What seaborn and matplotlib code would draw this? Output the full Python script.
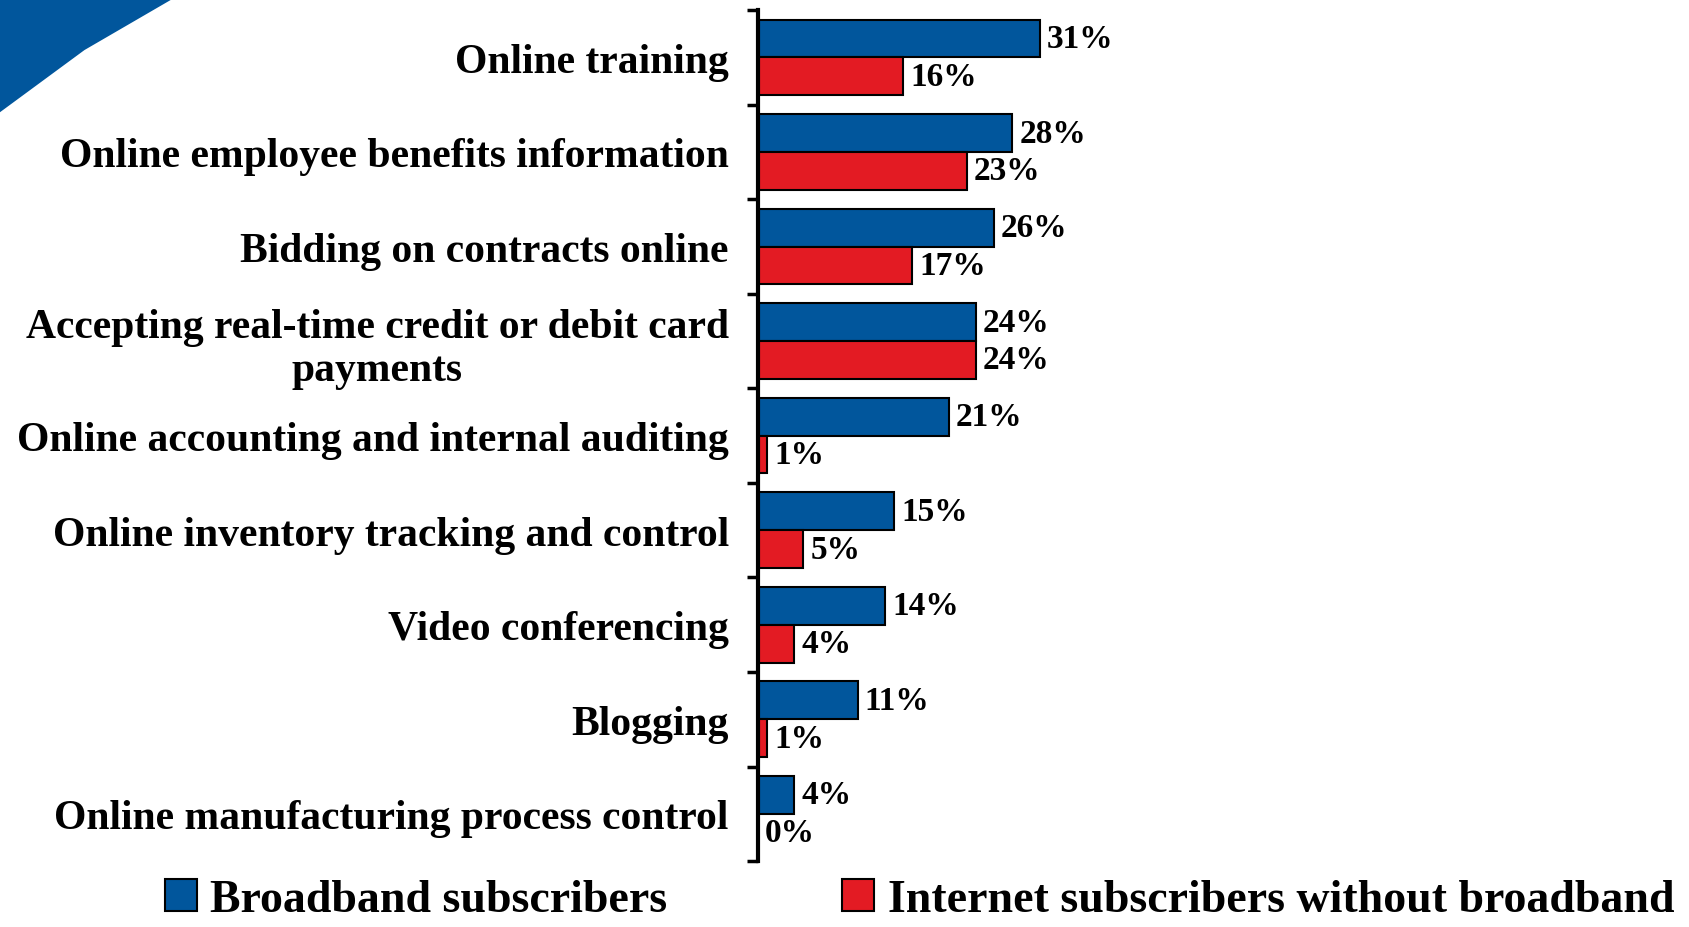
import pandas as pd
import matplotlib.pyplot as plt
import seaborn as sns
from matplotlib.patches import Polygon, Patch
from matplotlib.ticker import FixedLocator

# Data
categories = [
    'Online training',
    'Online employee benefits information',
    'Bidding on contracts online',
    'Accepting real-time credit or debit card\npayments',
    'Online accounting and internal auditing',
    'Online inventory tracking and control',
    'Video conferencing',
    'Blogging',
    'Online manufacturing process control',
]
broadband = [31, 28, 26, 24, 21, 15, 14, 11, 4]
no_broadband = [16, 23, 17, 24, 1, 5, 4, 1, 0]
series_names = ['Broadband subscribers', 'Internet subscribers without broadband']
colors = ['#01569C', '#E31B23']

df = pd.DataFrame({
    'Category': categories * 2,
    'Value': broadband + no_broadband,
    'Group': [series_names[0]] * len(categories) + [series_names[1]] * len(categories),
})

sns.set_style('white')
plt.rcParams['font.family'] = ['Liberation Serif', 'DejaVu Serif']
plt.rcParams['font.weight'] = 'bold'
plt.rcParams['text.color'] = 'black'
plt.rcParams['ytick.color'] = 'black'
plt.rcParams['ytick.labelcolor'] = 'black'

fig = plt.figure(figsize=(16.9, 9.28), dpi=100)
ax = fig.add_axes([0.4485, 0.071, 0.5515, 0.917])

sns.barplot(data=df, y='Category', x='Value', hue='Group', palette=colors,
            orient='h', width=0.8, edgecolor='black', linewidth=1.5,
            saturation=1, ax=ax, legend=False)

for cont in ax.containers:
    ax.bar_label(cont, fmt='%d%%', padding=5, fontsize=24, fontweight='bold', color='black')

ax.set_xlim(0, 102.6)
ax.set_ylim(len(categories) - 0.5, -0.5)
ax.set_xlabel('')
ax.set_ylabel('')
ax.set_xticks([])
for s in ['top', 'right', 'bottom']:
    ax.spines[s].set_visible(False)
ax.spines['left'].set_linewidth(3)
ax.spines['left'].set_color('black')

ax.yaxis.set_minor_locator(FixedLocator([i - 0.5 for i in range(len(categories) + 1)]))
ax.tick_params(axis='y', which='minor', left=True, length=8, width=2.5, color='black', direction='out')
ax.tick_params(axis='y', which='major', length=0, pad=21)
for lbl in ax.get_yticklabels():
    lbl.set_fontsize(30)
    lbl.set_fontweight('bold')
    lbl.set_color('black')
    lbl.set_multialignment('center')

# decorative corner triangle
fig.patches.append(Polygon([(0, 1), (0.102, 1), (0.05, 0.945), (0, 0.878)], closed=True,
                           transform=fig.transFigure, facecolor='#01569C', edgecolor='none'))

handles = [Patch(facecolor=c, edgecolor='black', linewidth=1.5) for c in colors]
fig.legend(handles, series_names, loc='lower center', bbox_to_anchor=(0.544, -0.038),
           ncol=2, frameon=False, fontsize=33, handlelength=0.7, handleheight=0.7,
           handletextpad=0.3, columnspacing=3.8)

plt.savefig('out.png', dpi=100)
